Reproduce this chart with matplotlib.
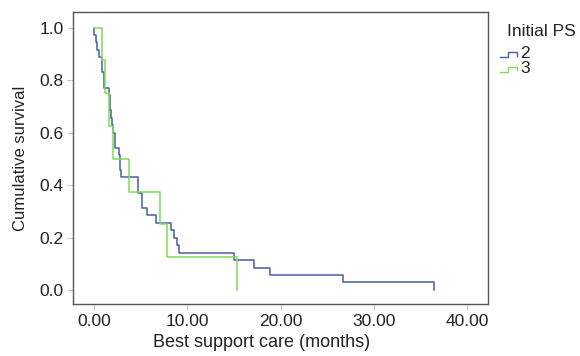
import matplotlib.pyplot as plt
from matplotlib.lines import Line2D

plt.rcParams['font.family'] = ['Liberation Sans', 'DejaVu Sans']

# Kaplan-Meier steps, group PS 2
t_ps2 = [0, 0.05, 0.21, 0.36, 0.54, 0.89, 1.11, 1.64, 1.71, 1.82, 1.89, 2.07, 2.25,
         2.71, 2.79, 2.89, 4.75, 5.11, 5.64, 6.64, 8.25, 8.61, 8.86, 9.11, 15.04,
         17.1, 18.86, 26.65, 36.4]
s_ps2 = [1.0, 0.971, 0.943, 0.914, 0.886, 0.829, 0.771, 0.743, 0.686, 0.657, 0.629, 0.600, 0.543,
         0.514, 0.457, 0.429, 0.371, 0.314, 0.286, 0.257, 0.229, 0.200, 0.171, 0.143, 0.114,
         0.086, 0.057, 0.029, 0.0]

# group PS 3
t_ps3 = [0, 0.82, 1.18, 1.61, 2.07, 3.71, 7.07, 7.79, 15.29]
s_ps3 = [1.0, 0.875, 0.75, 0.625, 0.5, 0.375, 0.25, 0.125, 0.0]

groups = ['2', '3']
colors = ['#4a5ca6', '#7ddc55']

fig = plt.figure(figsize=(5.8, 3.56), dpi=100)
ax = fig.add_axes([0.1264, 0.146, 0.7156, 0.8195])

ax.step(t_ps2, s_ps2, where='post', color=colors[0], lw=1.1)
ax.step(t_ps3, s_ps3, where='post', color=colors[1], lw=1.1)

ax.set_xlim(-2.22, 42.26)
ax.set_ylim(-0.053, 1.058)
ax.set_xticks([0, 10, 20, 30, 40])
ax.set_xticklabels(['0.00', '10.00', '20.00', '30.00', '40.00'])
ax.set_yticks([0, 0.2, 0.4, 0.6, 0.8, 1.0])
ax.set_yticklabels(['0.0', '0.2', '0.4', '0.6', '0.8', '1.0'])
ax.tick_params(length=4, color='#c8c8c8', labelsize=12.5, labelcolor='#222222', pad=3)
for sp in ax.spines.values():
    sp.set_color('#555555')
    sp.set_linewidth(1.0)

ax.set_xlabel('Best support care (months)', fontsize=13, color='#222222')
ax.xaxis.set_label_coords(0.454, -0.103)
ax.set_ylabel('Cumulative survival', fontsize=12, color='#222222', labelpad=8)

# legend
fig.text(0.8736, 0.9115, 'Initial PS', fontsize=12.5, color='#222222', va='center', ha='left')
for i, (g, c) in enumerate(zip(groups, colors)):
    yc = 0.850 - i * 0.042
    x0, x1, x2 = 0.862, 0.876, 0.891
    lo, hi = yc - 0.010, yc + 0.004
    fig.add_artist(Line2D([x0, x1, x1, x2, x2], [lo, lo, hi, hi, yc - 0.006],
                          transform=fig.transFigure, color=c, lw=1.0))
    fig.text(0.8966, yc, g, fontsize=12.5, color='#222222', va='center', ha='left')

fig.savefig('out.png', dpi=100)
